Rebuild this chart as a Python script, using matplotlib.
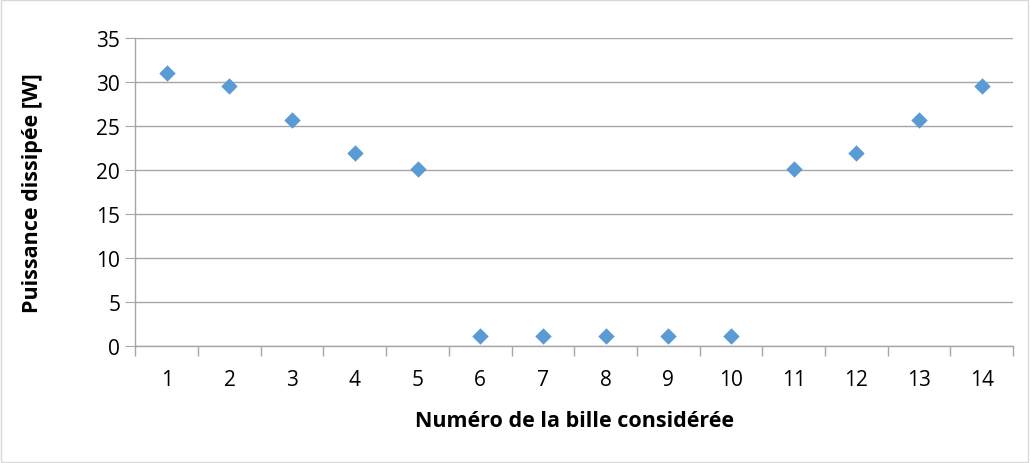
import matplotlib.pyplot as plt
from matplotlib.patches import Rectangle

plt.rcParams['font.family'] = ['Open Sans', 'DejaVu Sans']

# bille number and dissipated power [W]
billes = [1, 2, 3, 4, 5, 6, 7, 8, 9, 10, 11, 12, 13, 14]
puissance = [31.1, 29.6, 25.7, 21.9, 20.1, 1.1, 1.1, 1.1, 1.1, 1.1, 20.1, 21.9, 25.7, 29.6]
y_ticks = [0, 5, 10, 15, 20, 25, 30, 35]

grid_col = "#a6a6a6"

fig = plt.figure(figsize=(10.3, 4.64), dpi=100)
ax = fig.add_axes([0.1315, 0.2525, 0.852, 0.6625])

ax.scatter(billes, puissance, marker="D", s=70, color="#5b9bd5", zorder=3, linewidths=0)

ax.set_xlim(0.5, 14.5)
ax.set_ylim(0, 35)
ax.set_yticks(y_ticks)
ax.set_xticks(billes)
ax.set_xticks([b - 0.5 for b in billes] + [14.5], minor=True)
ax.tick_params(axis="x", which="major", length=0, labelsize=15, pad=17)
ax.tick_params(axis="x", which="minor", length=7, color=grid_col, width=1)
ax.tick_params(axis="y", length=7, color=grid_col, labelsize=15, pad=4)

ax.grid(axis="y", color=grid_col, linewidth=1, zorder=0)
for side in ["top", "right"]:
    ax.spines[side].set_visible(False)
for side in ["left", "bottom"]:
    ax.spines[side].set_color(grid_col)
    ax.spines[side].set_linewidth(1)

ax.set_xlabel("Numéro de la bille considérée", fontsize=15.5, fontweight="bold", labelpad=14)
ax.set_ylabel("Puissance dissipée [W]", fontsize=15.5, fontweight="bold", labelpad=38)

fig.patches.append(Rectangle((0.001, 0.002), 0.997, 0.995, transform=fig.transFigure,
                             fill=False, edgecolor="#d9d9d9", linewidth=1))

fig.savefig("out.png", dpi=100)
